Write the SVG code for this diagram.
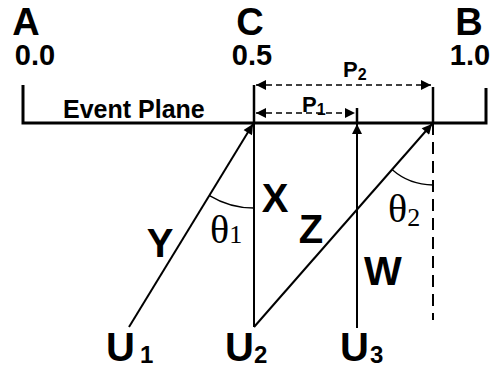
<svg xmlns="http://www.w3.org/2000/svg" width="493" height="372" viewBox="0 0 493 372">
<style>
.lbl{font-family:"Liberation Sans",Arial,sans-serif;font-weight:bold;fill:#000}
.big{font-size:40px}
.top{font-size:38px}
.num{font-size:29px}
.ep{font-size:25px}
.p{font-size:22px}
.sub{font-size:16px}
.usub{font-size:24px}
.th{font-family:"Liberation Serif","Times New Roman",serif;font-size:40px;fill:#000}
.ln{stroke:#000;fill:none}
.dash{stroke:#000;fill:none;stroke-width:1.5;stroke-dasharray:6 4}
</style>
<defs>
<marker id="ah" viewBox="0 0 10 10" refX="10" refY="5" markerWidth="14" markerHeight="10" markerUnits="userSpaceOnUse" orient="auto">
<path d="M0,0 L10,5 L0,10 Z" fill="#000"/>
</marker>
<marker id="ahs" viewBox="0 0 10 10" refX="10" refY="5" markerWidth="16" markerHeight="10" markerUnits="userSpaceOnUse" orient="auto-start-reverse">
<path d="M0,0 L10,5 L0,10 Z" fill="#000"/>
</marker>
</defs>
<g id="labels">
<text class="lbl top" x="26" y="35" text-anchor="middle">A</text>
<text class="lbl num" x="35" y="65" text-anchor="middle">0.0</text>
<text class="lbl top" x="250" y="35" text-anchor="middle">C</text>
<text class="lbl num" x="252" y="65" text-anchor="middle">0.5</text>
<text class="lbl top" x="469" y="35" text-anchor="middle">B</text>
<text class="lbl num" x="470" y="65" text-anchor="middle">1.0</text>
</g>
<g id="event-plane">
<path class="ln" stroke-width="3" d="M23,85 V123 H486 V88"/>
<text class="lbl ep" x="63" y="118">Event Plane</text>
</g>
<g id="connectors">
<line class="ln" stroke-width="2.5" x1="254" y1="85" x2="254" y2="123"/>
<line class="ln" stroke-width="2" x1="254" y1="123" x2="254" y2="327"/>
<line class="ln" stroke-width="2.5" x1="433" y1="87" x2="433" y2="123"/>
<line class="ln" stroke-width="2" x1="433" y1="123" x2="433" y2="320" stroke-dasharray="12 7"/>
<line class="ln" stroke-width="2.5" x1="357" y1="108" x2="357" y2="123"/>
<line class="dash" x1="256" y1="85" x2="431" y2="85" marker-start="url(#ahs)" marker-end="url(#ahs)"/>
<line class="dash" x1="256" y1="113" x2="355" y2="113" marker-start="url(#ahs)" marker-end="url(#ahs)"/>
<line class="ln" stroke-width="2" x1="129" y1="327" x2="253" y2="124" marker-end="url(#ah)"/>
<line class="ln" stroke-width="2" x1="254" y1="327" x2="432" y2="124" marker-end="url(#ah)"/>
<line class="ln" stroke-width="2" x1="357" y1="328" x2="357" y2="124" marker-end="url(#ah)"/>
<path class="ln" stroke-width="1.3" d="M209.5,195.6 A85,85 0 0 0 254,208"/>
<path class="ln" stroke-width="1.3" d="M392,169.6 A62,62 0 0 0 433,185"/>
</g>
<g id="P2"><text class="lbl p" x="343" y="77">P<tspan class="sub" dy="3">2</tspan></text></g>
<g id="P1"><text class="lbl p" x="302" y="112">P<tspan class="sub" dy="3">1</tspan></text></g>
<g id="X"><text class="lbl big" x="275" y="212" text-anchor="middle">X</text></g>
<g id="Y"><text class="lbl big" x="160" y="257" text-anchor="middle">Y</text></g>
<g id="Z"><text class="lbl big" x="311" y="243" text-anchor="middle">Z</text></g>
<g id="W"><text class="lbl big" x="383" y="285" text-anchor="middle">W</text></g>
<g id="theta1"><text class="th" x="210" y="243">θ<tspan font-size="26" dy="0">1</tspan></text></g>
<g id="theta2"><text class="th" x="388" y="222">θ<tspan font-size="26" dy="4">2</tspan></text></g>
<g id="U1"><text class="lbl big" x="106" y="361">U<tspan class="usub" dx="5" dy="2">1</tspan></text></g>
<g id="U2"><text class="lbl big" x="225" y="361">U<tspan class="usub" dx="0" dy="2">2</tspan></text></g>
<g id="U3"><text class="lbl big" x="340" y="361">U<tspan class="usub" dx="1" dy="2">3</tspan></text></g>
</svg>
